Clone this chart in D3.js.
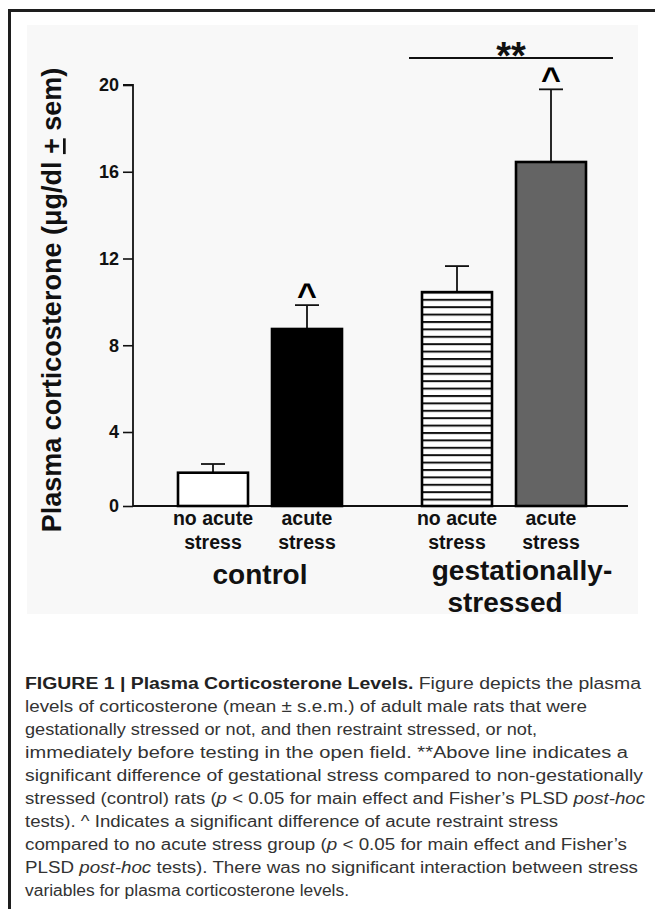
<!DOCTYPE html>
<html><head><meta charset="utf-8">
<script src="https://cdn.jsdelivr.net/npm/d3@7"></script>
<style>
html,body{margin:0;padding:0;background:#fff;}
#wrap{position:relative;width:655px;height:909px;overflow:hidden;}
svg{display:block;position:absolute;left:0;top:0;}
#frame{position:absolute;left:8px;top:9px;width:700px;height:960px;border-top:3px solid #1e1e1e;border-left:3px solid #1e1e1e;box-sizing:border-box;}
</style></head>
<body>
<div id="wrap">
<svg id="chart" width="655" height="909"></svg>
<div id="frame"></div>
</div>
<script>
// ---- data ----
const groups = ["control", "gestationally-stressed"];
const conditions = ["no acute stress", "acute stress"];
const means = [1.8, 8.75, 10.45, 16.45];          // control/no, control/acute, gest/no, gest/acute
const sems  = [0.47, 1.1, 1.2, 3.35];
const acuteSig = [false, true, false, true];        // "^" markers
const yTicks = [0, 4, 8, 12, 16, 20];
const groupLabels = [["control"], ["gestationally-", "stressed"]];
const condLabels = [["no acute", "stress"], ["acute", "stress"]];
const captionLines = [
  [{t:"FIGURE 1 | Plasma Corticosterone Levels.", b:1}, {t:" Figure depicts the plasma"}],
  [{t:"levels of corticosterone (mean \u00b1 s.e.m.) of adult male rats that were"}],
  [{t:"gestationally stressed or not, and then restraint stressed, or not,"}],
  [{t:"immediately before testing in the open field. **Above line indicates a"}],
  [{t:"significant difference of gestational stress compared to non-gestationally"}],
  [{t:"stressed (control) rats ("}, {t:"p", i:1}, {t:" < 0.05 for main effect and Fisher\u2019s PLSD "}, {t:"post-hoc", i:1}],
  [{t:"tests). ^ Indicates a significant difference of acute restraint stress"}],
  [{t:"compared to no acute stress group ("}, {t:"p", i:1}, {t:" < 0.05 for main effect and Fisher\u2019s"}],
  [{t:"PLSD "}, {t:"post-hoc", i:1}, {t:" tests). There was no significant interaction between stress"}],
  [{t:"variables for plasma corticosterone levels."}]
];
const captionWidths = [616, 562, 512, 603, 618, 620, 533, 602, 613, 324];

const rows = [];
groups.forEach((g, gi) => conditions.forEach((c, ci) => {
  const k = gi * 2 + ci;
  rows.push({g, c, gi, ci, v: means[k], e: sems[k], sig: acuteSig[k]});
}));

const svg = d3.select("#chart");
const font = "Liberation Sans, Arial, sans-serif";

// panel
svg.append("rect").attr("x", 27).attr("y", 25).attr("width", 611).attr("height", 589).attr("fill", "#f8f8f8");

// scales
const y = d3.scaleLinear().domain([0, 4, 20]).range([506, 432, 85]);
const xg = d3.scalePoint().domain(groups).range([260, 504]);
const xc = d3.scalePoint().domain(conditions).range([-47, 47]);
const bw = 70;
const cx = d => xg(d.g) + xc(d.c);

const defs = svg.append("defs");
const pat = defs.append("pattern").attr("id", "hatch").attr("patternUnits", "userSpaceOnUse")
  .attr("width", 10).attr("height", 7.4).attr("y", 506);
pat.append("rect").attr("width", 10).attr("height", 7.4).attr("fill", "#fff");
pat.append("rect").attr("y", 0).attr("width", 10).attr("height", 2).attr("fill", "#111");

// y axis
const yAxis = d3.axisLeft(y).tickValues(yTicks).tickSize(10).tickPadding(4).tickFormat(d3.format("d"));
const ga = svg.append("g").attr("transform", "translate(133,0)").call(yAxis);
ga.select(".domain").attr("stroke", "#111").attr("stroke-width", 1.8).attr("d", `M-10,${y(20)}H0V${y(0)}`);
ga.selectAll(".tick line").attr("stroke", "#111").attr("stroke-width", 1.6);
ga.selectAll(".tick text").attr("font-family", font)
  .attr("font-size", 18).attr("font-weight", "bold").attr("fill", "#111");

// x axis line
svg.append("line").attr("x1", 133).attr("x2", 628).attr("y1", y(0)).attr("y2", y(0))
  .attr("stroke", "#111").attr("stroke-width", 1.8);

// error bars (upper only)
const eb = svg.append("g").attr("stroke", "#111").attr("stroke-width", 1.8);
rows.forEach(d => {
  eb.append("line").attr("x1", cx(d)).attr("x2", cx(d)).attr("y1", y(d.v)).attr("y2", y(d.v + d.e));
  eb.append("line").attr("x1", cx(d) - 12).attr("x2", cx(d) + 12).attr("y1", y(d.v + d.e)).attr("y2", y(d.v + d.e));
});

// bars
const fills = ["#ffffff", "#000000", "url(#hatch)", "#646464"];
svg.append("g").selectAll("rect").data(rows).join("rect")
  .attr("x", d => cx(d) - bw / 2).attr("width", bw)
  .attr("y", d => y(d.v)).attr("height", d => y(0) - y(d.v))
  .attr("fill", (d, i) => fills[i]).attr("stroke", "#000").attr("stroke-width", 2.6);

// ^ markers
svg.append("g").selectAll("text").data(rows.filter(d => d.sig)).join("text")
  .attr("x", d => cx(d)).attr("y", d => y(d.v + d.e) + 1)
  .attr("text-anchor", "middle").attr("font-family", font)
  .attr("font-weight", "bold").attr("font-size", 34).attr("fill", "#000").text("^");

// significance line
const gRows = rows.filter(d => d.gi === 1);
const lx1 = cx(gRows[0]) - 48, lx2 = cx(gRows[1]) + 62;
svg.append("line").attr("x1", lx1).attr("x2", lx2).attr("y1", 58).attr("y2", 58).attr("stroke", "#111").attr("stroke-width", 1.8);
svg.append("text").attr("x", (lx1 + lx2) / 2).attr("y", 69).attr("text-anchor", "middle")
  .attr("font-family", font).attr("font-weight", "bold").attr("font-size", 38)
  .attr("fill", "#111").text("**");

// condition labels
rows.forEach(d => {
  const t = svg.append("text").attr("text-anchor", "middle").attr("font-family", font)
    .attr("font-weight", "bold").attr("font-size", 19.5).attr("fill", "#111");
  condLabels[d.ci].forEach((s, li) => t.append("tspan").attr("x", cx(d)).attr("y", 525 + li * 23.5).text(s));
});
const groupOffsets = [[0], [18, 1]];
groups.forEach((g, gi) => {
  const t = svg.append("text").attr("text-anchor", "middle").attr("font-family", font)
    .attr("font-weight", "bold").attr("font-size", 28).attr("fill", "#111");
  groupLabels[gi].forEach((s, li) => t.append("tspan").attr("x", xg(g) + groupOffsets[gi][li]).attr("y", (gi ? 580 : 584) + li * 32).text(s));
});

// y label
const yl = svg.append("text").attr("transform", "translate(61,300) rotate(-90)").attr("text-anchor", "middle")
  .attr("font-family", font).attr("font-weight", "bold").attr("font-size", 27).attr("fill", "#111");
yl.append("tspan").text("Plasma corticosterone (\u03bcg/dl ");
yl.append("tspan").attr("text-decoration", "underline").text("+");
yl.append("tspan").text(" sem)");

// caption
const cap = svg.append("g").attr("font-family", "Liberation Sans Narrow, Liberation Sans, Arial, sans-serif")
  .attr("font-size", 16).attr("fill", "#333");
captionLines.forEach((line, i) => {
  const t = cap.append("text").attr("x", 25).attr("y", 689 + i * 23);
  if (captionWidths[i]) t.attr("textLength", captionWidths[i]).attr("lengthAdjust", "spacingAndGlyphs");
  line.forEach(s => {
    const sp = t.append("tspan").text(s.t);
    if (s.b) sp.attr("font-weight", "bold").attr("fill", "#222");
    if (s.i) sp.attr("font-style", "italic");
  });
});
</script>
</body></html>
